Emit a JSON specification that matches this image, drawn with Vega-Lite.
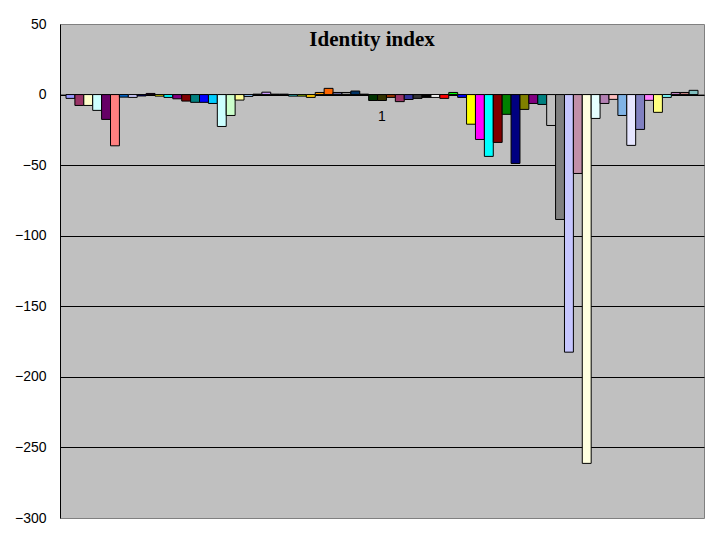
{
  "$schema": "https://vega.github.io/schema/vega-lite/v6.json",
  "width": 644,
  "height": 494,
  "autosize": {"type": "none"},
  "padding": {"left": 60, "top": 24, "right": 8, "bottom": 18},
  "background": "white",
  "title": {
    "text": "Identity index",
    "font": "Liberation Serif",
    "fontSize": 21,
    "fontWeight": "bold",
    "color": "black",
    "anchor": "middle",
    "baseline": "alphabetic",
    "offset": -50,
    "dx": -10
  },
  "config": {
    "view": {"fill": "#C0C0C0", "stroke": "#808080", "strokeWidth": 1}
  },
  "data": {
    "values": [
      {"cat": "1", "series": 1, "value": -2.7},
      {"cat": "1", "series": 2, "value": -7.7},
      {"cat": "1", "series": 3, "value": -7.7},
      {"cat": "1", "series": 4, "value": -11.2},
      {"cat": "1", "series": 5, "value": -17.6},
      {"cat": "1", "series": 6, "value": -36.3},
      {"cat": "1", "series": 7, "value": -1.8},
      {"cat": "1", "series": 8, "value": -2},
      {"cat": "1", "series": 9, "value": -1},
      {"cat": "1", "series": 10, "value": 0.8},
      {"cat": "1", "series": 11, "value": -1.1},
      {"cat": "1", "series": 12, "value": -2},
      {"cat": "1", "series": 13, "value": -3},
      {"cat": "1", "series": 14, "value": -4.6},
      {"cat": "1", "series": 15, "value": -5.5},
      {"cat": "1", "series": 16, "value": -5.5},
      {"cat": "1", "series": 17, "value": -6.3},
      {"cat": "1", "series": 18, "value": -22.6},
      {"cat": "1", "series": 19, "value": -14.8},
      {"cat": "1", "series": 20, "value": -3.9},
      {"cat": "1", "series": 21, "value": -1.3},
      {"cat": "1", "series": 22, "value": 0.3},
      {"cat": "1", "series": 23, "value": 1.7},
      {"cat": "1", "series": 24, "value": 0.3},
      {"cat": "1", "series": 25, "value": 0.3},
      {"cat": "1", "series": 26, "value": -1.1},
      {"cat": "1", "series": 27, "value": -1.1},
      {"cat": "1", "series": 28, "value": -2},
      {"cat": "1", "series": 29, "value": 1.5},
      {"cat": "1", "series": 30, "value": 4.4},
      {"cat": "1", "series": 31, "value": 1.5},
      {"cat": "1", "series": 32, "value": 1.5},
      {"cat": "1", "series": 33, "value": 2.5},
      {"cat": "1", "series": 34, "value": 0.3},
      {"cat": "1", "series": 35, "value": -4.2},
      {"cat": "1", "series": 36, "value": -4.2},
      {"cat": "1", "series": 37, "value": -2},
      {"cat": "1", "series": 38, "value": -5},
      {"cat": "1", "series": 39, "value": -3.5},
      {"cat": "1", "series": 40, "value": -2.7},
      {"cat": "1", "series": 41, "value": -2},
      {"cat": "1", "series": 42, "value": -2},
      {"cat": "1", "series": 43, "value": -2.7},
      {"cat": "1", "series": 44, "value": 1.5},
      {"cat": "1", "series": 45, "value": -2},
      {"cat": "1", "series": 46, "value": -21},
      {"cat": "1", "series": 47, "value": -31.8},
      {"cat": "1", "series": 48, "value": -43.8},
      {"cat": "1", "series": 49, "value": -33.9},
      {"cat": "1", "series": 50, "value": -14},
      {"cat": "1", "series": 51, "value": -48.8},
      {"cat": "1", "series": 52, "value": -10.5},
      {"cat": "1", "series": 53, "value": -6.3},
      {"cat": "1", "series": 54, "value": -7},
      {"cat": "1", "series": 55, "value": -21.9},
      {"cat": "1", "series": 56, "value": -88.5},
      {"cat": "1", "series": 57, "value": -182.5},
      {"cat": "1", "series": 58, "value": -55.9},
      {"cat": "1", "series": 59, "value": -261.3},
      {"cat": "1", "series": 60, "value": -16.9},
      {"cat": "1", "series": 61, "value": -6.3},
      {"cat": "1", "series": 62, "value": -3.4},
      {"cat": "1", "series": 63, "value": -14.8},
      {"cat": "1", "series": 64, "value": -36},
      {"cat": "1", "series": 65, "value": -24.7},
      {"cat": "1", "series": 66, "value": -4.1},
      {"cat": "1", "series": 67, "value": -12.6},
      {"cat": "1", "series": 68, "value": -2},
      {"cat": "1", "series": 69, "value": 1.5},
      {"cat": "1", "series": 70, "value": 1.5},
      {"cat": "1", "series": 71, "value": 3}
    ]
  },
  "mark": {"type": "bar", "stroke": "black", "strokeWidth": 1, "fillOpacity": 1},
  "encoding": {
    "x": {
      "field": "cat",
      "type": "nominal",
      "scale": {"paddingInner": 0, "paddingOuter": 0.0095},
      "axis": {
        "orient": "bottom",
        "offset": -423.4,
        "title": null,
        "ticks": false,
        "grid": false,
        "domain": true,
        "domainColor": "black",
        "domainWidth": 1,
        "labelAngle": 0,
        "labelFont": "Liberation Sans",
        "labelFontSize": 14,
        "labelColor": "black",
        "labelPadding": 15
      }
    },
    "xOffset": {
      "field": "series",
      "type": "ordinal",
      "scale": {"paddingInner": 0, "paddingOuter": 0}
    },
    "y": {
      "field": "value",
      "type": "quantitative",
      "scale": {"domain": [-300, 50], "nice": false},
      "axis": {
        "title": null,
        "values": [50, 0, -50, -100, -150, -200, -250, -300],
        "ticks": false,
        "domain": true,
        "domainColor": "black",
        "domainWidth": 1,
        "grid": true,
        "gridColor": {
          "condition": {"test": "datum.value === 50 || datum.value === -300", "value": "transparent"},
          "value": "black"
        },
        "gridWidth": 1,
        "gridOpacity": 1,
        "labelFont": "Liberation Sans",
        "labelFontSize": 14,
        "labelColor": "black",
        "labelPadding": 14
      }
    },
    "color": {
      "field": "series",
      "type": "ordinal",
      "legend": null,
      "scale": {
        "domain": [1,2,3,4,5,6,7,8,9,10,11,12,13,14,15,16,17,18,19,20,21,22,23,24,25,26,27,28,29,30,31,32,33,34,35,36,37,38,39,40,41,42,43,44,45,46,47,48,49,50,51,52,53,54,55,56,57,58,59,60,61,62,63,64,65,66,67,68,69,70,71],
        "range": ["#9999FF","#993366","#FFFFCC","#CCFFFF","#660066","#FF8080","#0066CC","#CCCCFF","#000080","#FF00FF","#FFFF00","#00FFFF","#800080","#800000","#008080","#0000FF","#00CCFF","#CCFFFF","#CCFFCC","#FFFF99","#99CCFF","#FF99CC","#CC99FF","#FFCC99","#3366FF","#33CCCC","#99CC00","#FFCC00","#FF9900","#FF6600","#666699","#969696","#003366","#339966","#003300","#333300","#993300","#993366","#333399","#333333","#000000","#FFFFFF","#FF0000","#00FF00","#0000FF","#FFFF00","#FF00FF","#00FFFF","#800000","#008000","#000080","#808000","#800080","#008080","#C0C0C0","#808080","#C6C6FF","#C28FA8","#FFFFE0","#E6FFFF","#B380B3","#FFC0C0","#80B3E6","#E6E6FF","#8080C0","#FF80FF","#FFFF80","#80FFFF","#C080C0","#C08080","#80C0C0"]
      }
    }
  }
}
